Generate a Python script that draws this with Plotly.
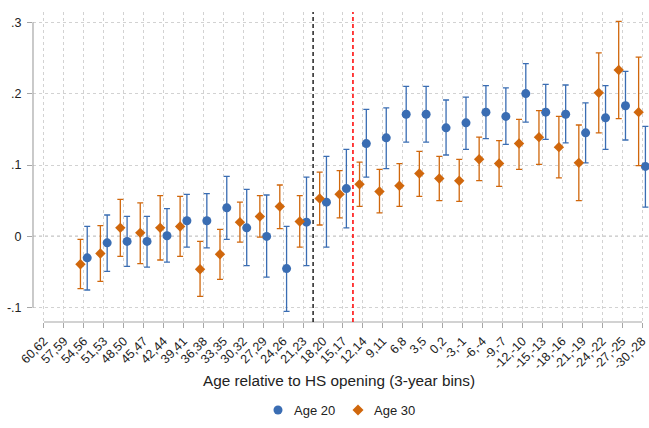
import plotly.graph_objects as go

# 3-year age bins relative to high-school opening
bins = ["60,62", "57,59", "54,56", "51,53", "48,50", "45,47", "42,44", "39,41",
        "36,38", "33,35", "30,32", "27,29", "24,26", "21,23", "18,20", "15,17",
        "12,14", "9,11", "6,8", "3,5", "0,2", "-3,-1", "-6,-4", "-9,-7",
        "-12,-10", "-15,-13", "-18,-16", "-21,-19", "-24,-22", "-27,-25", "-30,-28"]

# Age 20 estimates with 95% CI
age20 = [None, None, -0.030, -0.009, -0.007, -0.007, 0.001, 0.022, 0.022, 0.040,
         0.012, 0.000, -0.045, 0.020, 0.048, 0.067, 0.130, 0.138, 0.171, 0.171,
         0.152, 0.159, 0.174, 0.168, 0.200, 0.174, 0.171, 0.145, 0.166, 0.183, 0.098]
age20_hi = [None, None, 0.014, 0.030, 0.028, 0.028, 0.039, 0.059, 0.060, 0.084,
            0.066, 0.058, 0.014, 0.083, 0.112, 0.122, 0.178, 0.180, 0.210, 0.210,
            0.191, 0.195, 0.211, 0.208, 0.242, 0.213, 0.212, 0.187, 0.211, 0.231, 0.154]
age20_lo = [None, None, -0.075, -0.049, -0.042, -0.043, -0.036, -0.015, -0.016, -0.004,
            -0.041, -0.057, -0.105, -0.041, -0.015, 0.012, 0.083, 0.095, 0.132, 0.132,
            0.114, 0.122, 0.137, 0.129, 0.160, 0.136, 0.131, 0.103, 0.122, 0.135, 0.041]

# Age 30 estimates with 95% CI
age30 = [None, None, -0.039, -0.024, 0.012, 0.005, 0.012, 0.014, -0.046, -0.025,
         0.020, 0.028, 0.042, 0.021, 0.053, 0.059, 0.073, 0.063, 0.071, 0.088,
         0.081, 0.078, 0.108, 0.102, 0.130, 0.139, 0.125, 0.103, 0.201, 0.233, 0.174]
age30_hi = [None, None, -0.004, 0.015, 0.052, 0.047, 0.057, 0.056, -0.007, 0.010,
            0.048, 0.057, 0.072, 0.057, 0.090, 0.092, 0.104, 0.094, 0.102, 0.119,
            0.112, 0.108, 0.139, 0.134, 0.164, 0.176, 0.168, 0.156, 0.257, 0.301, 0.251]
age30_lo = [None, None, -0.073, -0.063, -0.028, -0.038, -0.033, -0.028, -0.084, -0.060,
            -0.008, -0.001, 0.011, -0.015, 0.016, 0.026, 0.042, 0.033, 0.042, 0.056,
            0.050, 0.049, 0.078, 0.070, 0.094, 0.101, 0.082, 0.050, 0.145, 0.165, 0.099]

series_names = ["Age 20", "Age 30"]

y_ticks = [-0.1, 0, 0.1, 0.2, 0.3]
y_tick_labels = ["-.1", "0", ".1", ".2", ".3"]

# reference lines between bins
cutoff_black = 13.5
cutoff_red = 15.5

BLUE = "#3a6db3"
ORANGE = "#d0670c"
GRID = "#d2d2d2"
AXIS = "#a6a6a6"
FONT = "Liberation Sans, Arial, sans-serif"

pos = list(range(len(bins)))
shift = 0.17


def err(vals, hi, lo):
    up = [None if v is None else h - v for v, h in zip(vals, hi)]
    dn = [None if v is None else v - l for v, l in zip(vals, lo)]
    return up, dn


fig = go.Figure()

up20, dn20 = err(age20, age20_hi, age20_lo)
fig.add_trace(go.Scatter(
    x=[p + shift for p in pos], y=age20, mode="markers", name=series_names[0],
    marker=dict(symbol="circle", size=9, color=BLUE), cliponaxis=False,
    error_y=dict(type="data", symmetric=False, array=up20, arrayminus=dn20,
                 color=BLUE, thickness=1.3, width=3),
))

up30, dn30 = err(age30, age30_hi, age30_lo)
fig.add_trace(go.Scatter(
    x=[p - shift for p in pos], y=age30, mode="markers", name=series_names[1],
    marker=dict(symbol="diamond", size=8, color=ORANGE), cliponaxis=False,
    error_y=dict(type="data", symmetric=False, array=up30, arrayminus=dn30,
                 color=ORANGE, thickness=1.3, width=3),
))

# dotted zero line
fig.add_shape(type="line", xref="paper", x0=0, x1=1, yref="y", y0=0, y1=0,
              line=dict(color="#8c8c8c", width=1.2, dash="dot"), layer="below")
# axis lines spanning the tick range
fig.add_shape(type="line", xref="x", x0=0, x1=len(bins) - 1, yref="paper", y0=0, y1=0,
              line=dict(color=AXIS, width=1.2))
fig.add_shape(type="line", xref="paper", x0=0, x1=0, yref="y", y0=-0.1, y1=0.3,
              line=dict(color=AXIS, width=1.2))
# vertical cut-off lines
fig.add_shape(type="line", xref="x", x0=cutoff_black, x1=cutoff_black, yref="paper", y0=0, y1=1,
              line=dict(color="black", width=1.3, dash="4px,3px"))
fig.add_shape(type="line", xref="x", x0=cutoff_red, x1=cutoff_red, yref="paper", y0=0, y1=1,
              line=dict(color="#ff0000", width=1.5, dash="4px,3px"))

fig.add_annotation(text="Age relative to HS opening (3-year bins)", xref="paper", yref="paper",
                   x=0.497, y=-0.19, showarrow=False, yanchor="middle",
                   font=dict(family=FONT, size=15.3, color="#222222"))

# legend keys below the axis title
leg_y = -0.284
fig.add_shape(type="circle", xref="paper", yref="paper", xsizemode="pixel", ysizemode="pixel",
              xanchor=0.3977, yanchor=leg_y, x0=-4.5, x1=4.5, y0=-4.5, y1=4.5,
              fillcolor=BLUE, line=dict(width=0))
fig.add_shape(type="path", xref="paper", yref="paper", xsizemode="pixel", ysizemode="pixel",
              xanchor=0.5276, yanchor=leg_y, path="M -5.5 0 L 0 5.5 L 5.5 0 L 0 -5.5 Z",
              fillcolor=ORANGE, line=dict(width=0))
for name, xp in zip(series_names, [0.4205, 0.5503]):
    fig.add_annotation(text=name, xref="paper", yref="paper", x=xp, y=leg_y,
                       xanchor="left", yanchor="middle", showarrow=False,
                       font=dict(family=FONT, size=13, color="#222222"))

fig.update_layout(
    width=649, height=428,
    margin=dict(l=33, r=0, t=12, b=106),
    paper_bgcolor="white", plot_bgcolor="white",
    font=dict(family=FONT, size=12, color="#222222"),
    showlegend=False,
    xaxis=dict(
        range=[-0.55, 30.35], tickmode="array", tickvals=pos, ticktext=bins,
        tickangle=-45, ticks="outside", ticklen=5, tickcolor=AXIS, tickwidth=1.2,
        showgrid=True, gridcolor=GRID, griddash="dot", gridwidth=1,
        zeroline=False, showline=False, tickfont=dict(size=12.5, color="#222222"),
        ticklabelstandoff=1,
    ),
    yaxis=dict(
        range=[-0.1198, 0.3142], tickmode="array", tickvals=y_ticks, ticktext=y_tick_labels,
        ticks="outside", ticklen=5, tickcolor=AXIS, tickwidth=1.2,
        showgrid=True, gridcolor=GRID, griddash="dot", gridwidth=1,
        zeroline=False, showline=False, tickfont=dict(size=12.5), ticklabelstandoff=3,
    ),
)

fig.write_html("out.html")
